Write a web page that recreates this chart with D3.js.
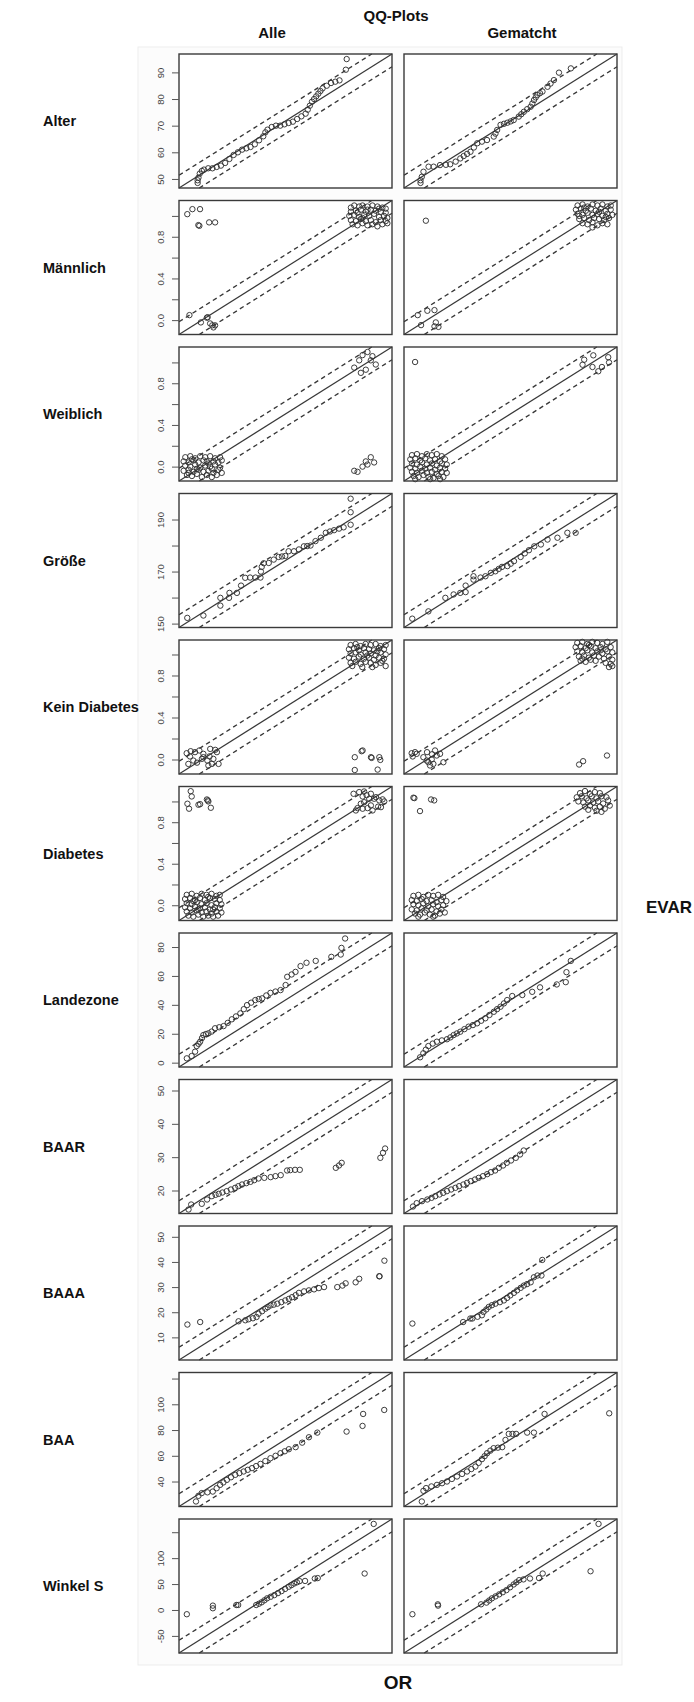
<!DOCTYPE html>
<html>
<head>
<meta charset="utf-8">
<script src="https://cdn.jsdelivr.net/npm/d3@7"></script>
<style>
  body { margin: 0; background: #fff; }
  svg text { font-family: "Liberation Sans", Arial, sans-serif; }
  .lbl { font-weight: bold; fill: #111; }
</style>
</head>
<body>
<svg id="chart" width="694" height="1702"></svg>
<script>
// ----------------------------
// Daten (aus dem Bild geschätzt): [OR-Quantil, EVAR-Quantil]
// ----------------------------
const rowNames = ['Alter', 'Männlich', 'Weiblich', 'Größe', 'Kein Diabetes', 'Diabetes',
  'Landezone', 'BAAR', 'BAAA', 'BAA', 'Winkel S'];
const colNames = ['Alle', 'Gematcht'];

const rowDomains = [[46.6, 96.9], [-0.138, 1.148], [-0.138, 1.148], [148.5, 200],
  [-0.138, 1.138], [-0.147, 1.144], [-3, 89.7], [13.1, 53.3], [1.0, 54.3], [20.6, 124.7], [-83, 175.5]];

const binTicks = [0, 0.2, 0.4, 0.6, 0.8, 1.0];
const binLabels = ['0.0', '', '0.4', '', '0.8', ''];
const rowTicks = [[50, 60, 70, 80, 90], binTicks, binTicks, [150, 160, 170, 180, 190], binTicks, binTicks,
  [0, 20, 40, 60, 80], [20, 30, 40, 50], [10, 20, 30, 40, 50], [40, 60, 80, 100, 120], [-50, 0, 50, 100, 150]];
const rowTickLabels = [['50', '60', '70', '80', '90'], binLabels, binLabels, ['150', '', '170', '', '190'],
  binLabels, binLabels, ['0', '20', '40', '60', '80'], ['20', '30', '40', '50'], ['10', '20', '30', '40', '50'],
  ['40', '60', '80', '100', ''], ['-50', '0', '50', '100', '']];

const alterAlle = [[51,48.5],[51,49.5],[51.2,50.5],[51.5,52],[52,53],[52.5,53.5],[53.5,54],[54.5,54],[55.5,54.5],
  [56.5,55],[57.5,56],[58.5,57.5],[59.5,59],[60.5,60],[61.5,61],[62.5,61.5],[63.5,62],[64.5,63],[65.5,64.5],
  [66.5,66],[67,67.5],[67.5,68.5],[68.5,69.5],[69.5,70],[70.5,70],[71.5,70.5],[72.5,71],[73.5,71.5],[74.5,72.5],
  [75.5,73.5],[76.5,74.5],[77,76],[77.5,77.5],[78,79],[78.5,80],[79,81],[79.5,82],[80,83],[80.5,84],[81.5,85],
  [82.5,86],[83.5,86.5],[84.5,87],[86,91],[86.2,95]];
const alterGem = [[50.5,48.5],[50.5,49.5],[50.8,50.8],[51.2,52.7],[52.4,54.6],[53.6,54.6],[55.1,55.2],[56.5,55.3],
  [57.5,55.5],[58.8,56.5],[59.9,57.7],[60.7,58.6],[61.5,59.4],[62.3,60.2],[63.1,61.8],[63.9,63.4],[65,64],
  [66.2,64.6],[67.8,65.9],[68.2,67],[68.6,68.4],[69.4,70.3],[70.2,70.7],[71,71.1],[71.8,71.6],[72.5,72.1],
  [73.7,73.4],[74.3,74.3],[74.9,75.2],[75.7,76.2],[76.5,77.1],[76.9,78.3],[77.3,79.6],[77.7,80.6],[78.1,81.5],
  [78.7,82.2],[79.3,82.8],[80.5,84.6],[81.2,85.8],[82,87.1],[83.2,89.9],[86,91.5]];

const maennlichAlle = [[-0.088,1.017],[-0.057,1.065],[-0.011,1.065],[-0.021,0.912],[-0.015,0.905],[0.044,0.938],
  [0.080,0.938],[-0.075,0.048],[-0.006,-0.022],[0.030,0.023],[0.035,0.028],[0.05,-0.032],[0.063,-0.05],
  [0.08,-0.05],[0.07,-0.07],
  [0.90,1.08],[0.92,1.10],[0.95,1.09],[0.97,1.10],[1.00,1.09],[1.03,1.10],[1.06,1.09],[1.09,1.08],[1.11,1.07],
  [0.90,1.04],[0.93,1.05],[0.96,1.06],[0.99,1.04],[1.02,1.06],[1.05,1.05],[1.08,1.04],[1.11,1.03],
  [0.89,1.00],[0.92,1.01],[0.95,0.99],[0.98,1.01],[1.01,1.00],[1.04,1.02],[1.07,0.99],[1.10,1.00],[1.12,0.98],
  [0.90,0.96],[0.93,0.95],[0.96,0.97],[0.99,0.95],[1.02,0.96],[1.05,0.94],[1.08,0.96],[1.11,0.95],
  [0.91,0.92],[0.94,0.91],[0.97,0.93],[1.00,0.91],[1.03,0.92],[1.06,0.90],[1.09,0.92],[1.12,0.93],
  [0.94,1.03],[1.00,1.06],[1.07,1.07],[0.97,0.98]];
const maennlichGem = [[-0.006,0.954],[-0.055,0.048],[0.003,0.09],[0.046,0.096],[-0.035,-0.048],[0.054,-0.022],
  [0.046,-0.06],[0.07,-0.065],
  [0.91,1.10],[0.94,1.11],[0.97,1.09],[1.00,1.11],[1.03,1.10],[1.06,1.11],[1.09,1.09],[1.11,1.10],
  [0.90,1.06],[0.93,1.07],[0.96,1.05],[0.99,1.07],[1.02,1.05],[1.05,1.07],[1.08,1.05],[1.11,1.06],
  [0.91,1.02],[0.94,1.01],[0.97,1.03],[1.00,1.01],[1.03,1.02],[1.06,1.00],[1.09,1.02],[1.12,1.01],
  [0.92,0.97],[0.95,0.98],[0.98,0.96],[1.01,0.98],[1.04,0.97],[1.07,0.96],[1.10,0.98],
  [0.94,0.93],[0.97,0.92],[1.00,0.94],[1.03,0.91],[1.06,0.93],[1.09,0.92],[1.00,0.89],
  [0.95,1.08],[1.04,1.04],[1.08,0.99],[0.92,1.00]];

const weiblichAlle = [[-0.10,0.09],[-0.07,0.10],[-0.04,0.08],[-0.01,0.10],[0.02,0.09],[0.05,0.10],[0.08,0.08],
  [0.11,0.09],[-0.11,0.05],[-0.08,0.04],[-0.05,0.06],[-0.02,0.04],[0.01,0.06],[0.04,0.03],[0.07,0.05],[0.10,0.04],
  [-0.10,0.01],[-0.07,0.00],[-0.04,0.02],[-0.01,-0.01],[0.02,0.01],[0.05,0.00],[0.08,0.02],[0.11,-0.01],
  [-0.11,-0.04],[-0.08,-0.03],[-0.05,-0.05],[-0.02,-0.03],[0.01,-0.05],[0.04,-0.04],[0.07,-0.06],[0.10,-0.03],
  [-0.09,-0.08],[-0.06,-0.09],[-0.03,-0.07],[0.00,-0.10],[0.03,-0.08],[0.06,-0.10],[0.09,-0.08],[0.12,-0.06],
  [-0.06,0.07],[0.03,0.05],[-0.03,-0.02],[0.06,-0.02],[-0.08,-0.06],[0.12,0.06],
  [0.92,0.95],[0.95,1.02],[0.97,1.07],[1.00,1.10],[1.03,1.06],[1.05,0.98],[0.99,0.93],[0.96,0.90],[1.02,1.02],
  [0.92,-0.04],[0.94,-0.05],[0.97,0.0],[1.0,0.02],[1.02,0.09],[1.04,0.04],[0.99,0.05]];
const weiblichGem = [[-0.071,1.004],
  [0.95,1.026],[1.005,1.068],[0.94,0.978],[1.0,0.956],[1.035,0.915],[1.057,0.956],[1.095,1.05],[1.10,1.0],
  [-0.09,0.11],[-0.06,0.12],[-0.03,0.10],[0.00,0.12],[0.03,0.11],[0.06,0.12],[0.09,0.10],
  [-0.10,0.07],[-0.07,0.08],[-0.04,0.06],[-0.01,0.08],[0.02,0.06],[0.05,0.07],[0.08,0.05],[0.11,0.07],
  [-0.09,0.03],[-0.06,0.02],[-0.03,0.04],[0.00,0.02],[0.03,0.03],[0.06,0.01],[0.09,0.03],[0.12,0.02],
  [-0.10,-0.01],[-0.07,-0.02],[-0.04,0.00],[-0.01,-0.02],[0.02,-0.01],[0.05,-0.03],[0.08,-0.01],[0.11,-0.02],
  [-0.09,-0.05],[-0.06,-0.06],[-0.03,-0.04],[0.00,-0.06],[0.03,-0.05],[0.06,-0.07],[0.09,-0.05],[0.12,-0.06],
  [-0.08,-0.09],[-0.05,-0.10],[-0.02,-0.08],[0.01,-0.10],[0.04,-0.11],[0.07,-0.09],[0.10,-0.10],
  [-0.07,-0.12],[0.02,-0.12],[0.08,-0.12]];

const groesseAlle = [[150.5,152.2],[154.4,153.1],[158.5,156.9],[158.5,159.9],[160.6,159.9],[160.7,161.8],
  [162.5,161.8],[163.5,164.6],[164.5,167.6],[165.7,167.7],[167,167.7],[168.2,167.7],[168.3,170],[168.5,171.8],
  [169,173.2],[170.2,173.3],[171.4,174.6],[172.6,175.6],[173.4,175.8],[174.2,176],[175,177.8],[176.3,177.8],
  [177.5,178.5],[178.7,179.7],[179.5,179.8],[180.3,180],[181.5,181.7],[182.8,183],[184,184.9],[185,185.4],
  [186,185.9],[187.2,186.5],[188.3,187],[190,188],[190,192.8],[190,198]];
const groesseGem = [[150.5,151.9],[154.4,154.7],[158.5,159.9],[160.5,161.2],[162.1,161.8],[163.4,162.1],
  [163.4,164.6],[165.3,166.9],[165.3,168.2],[167,167.7],[168.2,168.2],[169.5,169.5],[170.6,170.1],[171.4,171],
  [172.2,171.8],[173.5,172.1],[174.3,173],[175.1,174],[176.7,175.6],[177.7,177],[178.7,178.2],[180,179.7],
  [181.6,180.4],[183.2,182.3],[185.6,183],[188,184.9],[190,184.9]];

const keinDiabAlle = [[-0.092,0.06],[-0.068,0.079],[-0.042,0.07],[-0.016,0.086],[0.008,0.054],[0.049,0.101],
  [0.079,0.092],[0.089,0.07],[-0.082,-0.042],[-0.052,-0.01],[-0.001,0.006],[0.032,-0.01],[0.059,-0.042],
  [0.099,-0.042],[0.038,-0.057],[-0.072,0.029],[0.008,0.022],[0.068,0.006],[0.045,0.03],[-0.03,-0.03],
  [0.915,0.022],[0.956,0.079],[0.962,0.086],[1.012,0.022],[1.016,0.015],[1.062,0.022],[1.068,-0.004],
  [0.915,-0.1],[1.052,-0.096],
  [0.89,1.09],[0.92,1.10],[0.95,1.08],[0.98,1.10],[1.01,1.09],[1.04,1.10],[1.07,1.08],[1.10,1.09],
  [0.88,1.05],[0.91,1.06],[0.94,1.04],[0.97,1.06],[1.00,1.05],[1.03,1.04],[1.06,1.06],[1.09,1.05],
  [0.89,1.01],[0.92,1.02],[0.95,1.00],[0.98,1.02],[1.01,1.01],[1.04,0.99],[1.07,1.02],[1.10,1.00],
  [0.88,0.97],[0.91,0.96],[0.94,0.98],[0.97,0.96],[1.00,0.97],[1.03,0.95],[1.06,0.97],[1.09,0.96],
  [0.89,0.92],[0.92,0.93],[0.95,0.91],[0.98,0.93],[1.01,0.92],[1.04,0.90],[1.07,0.92],[1.10,0.89],
  [0.90,0.89],[0.96,0.88],[1.02,0.88],[0.93,1.07],[1.05,1.03],[0.99,0.99],[1.08,0.94]];
const keinDiabGem = [[-0.092,0.06],[-0.072,0.07],[-0.062,0.054],[-0.086,0.029],[-0.002,-0.01],[0.008,-0.026],
  [0.018,-0.057],[0.038,-0.042],[0.058,0.038],[0.078,0.054],[0.048,0.086],[0.098,-0.026],[0.028,0.0],
  [-0.022,0.022],[0.0,0.07],[0.03,0.05],
  [0.911,-0.048],[0.935,-0.016],[1.078,0.038],
  [0.90,1.11],[0.93,1.12],[0.96,1.10],[0.99,1.12],[1.02,1.11],[1.05,1.10],[1.08,1.12],
  [0.89,1.07],[0.92,1.08],[0.95,1.06],[0.98,1.08],[1.01,1.06],[1.04,1.07],[1.07,1.05],[1.10,1.07],
  [0.90,1.03],[0.93,1.02],[0.96,1.04],[0.99,1.02],[1.02,1.03],[1.05,1.01],[1.08,1.03],[1.11,1.02],
  [0.91,0.98],[0.94,0.99],[0.97,0.97],[1.00,0.99],[1.03,0.98],[1.06,0.96],[1.09,0.98],[1.11,0.95],
  [0.92,0.94],[0.95,0.93],[0.98,0.95],[1.01,0.94],[1.07,0.92],[1.10,0.91],[1.09,0.88],[1.11,0.89],
  [0.97,1.09],[1.04,1.04],[0.93,0.96]];

const diabAlle = [[-0.076,1.099],[-0.07,1.048],[-0.096,0.978],[-0.086,0.93],[-0.029,0.968],[-0.019,0.974],
  [0.022,1.019],[0.031,1.0],[0.046,0.939],[0.028,1.01],
  [0.911,1.074],[0.945,1.09],[0.975,1.096],[0.966,1.048],[1.016,1.074],[1.036,1.026],[1.067,1.01],[1.097,1.0],
  [0.935,0.936],[0.966,0.93],[0.996,0.936],[1.016,0.962],[1.047,1.041],[0.975,0.993],[1.006,1.026],
  [1.077,0.945],[0.925,0.913],[1.026,0.913],[0.955,0.978],[1.087,1.02],[0.99,1.06],[1.06,0.95],
  [-0.10,0.10],[-0.07,0.11],[-0.04,0.09],[-0.01,0.11],[0.02,0.10],[0.05,0.11],[0.08,0.09],[0.10,0.10],
  [-0.11,0.06],[-0.08,0.07],[-0.05,0.05],[-0.02,0.07],[0.01,0.05],[0.04,0.07],[0.07,0.06],[0.10,0.05],
  [-0.10,0.02],[-0.07,0.01],[-0.04,0.03],[-0.01,0.01],[0.02,0.02],[0.05,0.00],[0.08,0.02],[0.11,0.01],
  [-0.11,-0.02],[-0.08,-0.03],[-0.05,-0.01],[-0.02,-0.03],[0.01,-0.02],[0.04,-0.04],[0.07,-0.02],[0.10,-0.03],
  [-0.10,-0.06],[-0.07,-0.07],[-0.04,-0.05],[-0.01,-0.07],[0.02,-0.06],[0.05,-0.08],[0.08,-0.06],[0.11,-0.07],
  [-0.09,-0.10],[-0.06,-0.11],[-0.03,-0.09],[0.00,-0.11],[0.03,-0.10],[0.06,-0.11],[0.09,-0.10],
  [-0.06,0.04],[0.03,0.08],[-0.03,-0.04],[0.06,-0.04]];
const diabGem = [[-0.09,1.036],[-0.084,1.032],[-0.05,0.907],[0.017,1.019],[0.036,1.01],
  [0.92,1.08],[0.95,1.10],[0.98,1.07],[1.01,1.09],[1.04,1.08],
  [0.90,1.04],[0.93,1.05],[0.96,1.03],[0.99,1.05],[1.02,1.03],[1.05,1.05],[1.08,1.04],
  [0.91,1.00],[0.94,0.99],[0.97,1.01],[1.00,0.99],[1.03,1.00],[1.06,0.98],[1.09,1.01],
  [0.95,0.95],[0.98,0.96],[1.01,0.94],[1.04,0.95],[1.07,0.93],[1.10,0.96],[1.02,0.91],[1.05,0.90],[0.97,0.92],
  [-0.09,0.09],[-0.06,0.10],[-0.03,0.08],[0.00,0.10],[0.03,0.09],[0.06,0.10],[0.09,0.08],
  [-0.10,0.05],[-0.07,0.04],[-0.04,0.06],[-0.01,0.04],[0.02,0.05],[0.05,0.03],[0.08,0.05],[0.11,0.04],
  [-0.09,0.01],[-0.06,0.00],[-0.03,0.02],[0.00,-0.01],[0.03,0.01],[0.06,-0.01],[0.09,0.00],
  [-0.10,-0.04],[-0.07,-0.05],[-0.04,-0.03],[-0.01,-0.05],[0.02,-0.04],[0.05,-0.06],[0.08,-0.04],
  [-0.08,-0.08],[-0.05,-0.09],[-0.02,-0.07],[0.01,-0.09],[0.04,-0.10],[0.07,-0.08],[0.10,-0.07],
  [-0.06,-0.11],[0.03,-0.11]];

const landeAlle = [[0.4,3],[2.5,4.6],[4,7.6],[4.7,11.5],[5.5,13],[6.2,14.5],[7,17],[7.6,19.1],[8.7,19.8],
  [9.8,20.3],[11.2,21.5],[12.7,23.8],[14.5,24.5],[16.4,25.3],[18.2,27.5],[20,30],[21.8,32],[23.7,34.1],
  [25.2,37],[26.6,39.8],[28.4,41.5],[30.2,43.3],[31.7,44],[33.2,44.5],[35,46.5],[36.8,48.3],[39,49.2],
  [41.2,50.2],[43.4,53.7],[44.1,59.4],[46,61],[47.7,62.8],[49.9,66.8],[52.5,69.1],[56.5,70.4],[63.3,73.2],
  [67.4,74.8],[67.7,79.4],[69.3,85.9]];
const landeGem = [[4,3.7],[5.4,6.5],[6.5,9],[7.6,11.5],[9.5,13.2],[11.3,14.5],[13.5,15.4],[15.7,16.2],
  [17.2,17.5],[18.6,19.1],[20,20.2],[21.5,21.4],[23.3,23.2],[25.1,24.9],[27,26],[28.8,27.2],[30.6,29],
  [32.4,30.7],[34.2,33],[36.1,35.2],[37.5,37],[39,38.7],[40.5,41],[41.9,43.3],[44.1,46.1],[48.5,46.8],
  [52.8,49],[56.2,52.1],[63.5,54.1],[67.4,55.7],[67.7,62.6],[69.6,70.4]];

const baarAlle = [[14.9,14.3],[15.4,15.8],[17.4,16],[18.4,17.3],[19.3,18.3],[20,18.7],[20.6,19],[21.3,19.4],
  [22.1,19.8],[22.9,20.3],[23.7,20.8],[24.3,21.3],[25,21.8],[25.8,22.2],[26.6,22.6],[27.3,23.1],[28.1,23.6],
  [29.2,23.8],[30.4,24],[31.3,24.3],[32.3,24.6],[33.5,26],[34.1,26.1],[35,26.2],[35.9,26.2],[42.7,26.8],
  [43.3,27.5],[43.8,28.3],[51.1,29.8],[51.6,31.3],[52,32.6]];
const baarGem = [[14.8,15.2],[15.5,16.2],[16.5,16.8],[17.5,17.3],[18.3,17.8],[19,18.3],[19.8,18.8],[20.5,19.3],
  [21.2,19.8],[22,20.3],[22.8,20.8],[23.5,21.3],[24.3,21.8],[25,22.3],[25.7,22.8],[26.5,23.3],[27.2,23.8],
  [28,24.3],[28.8,24.9],[29.5,25.5],[30.3,26],[31,26.8],[31.8,27.5],[32.5,28.3],[33.3,29],[34.2,29.8],
  [35,30.8],[35.7,32]];

const baaaAlle = [[3.1,15.1],[6.3,16.1],[15.9,16.4],[17.6,16.8],[18.4,17.2],[19.5,17.6],[20.4,18.1],[20.9,19.4],
  [21.8,20.4],[22.6,21.4],[23.2,22],[23.9,22.7],[24.7,23],[25.6,23.4],[26.6,24],[27.6,24.7],[28.5,25.3],
  [29.3,26],[30.2,26.8],[31,27.7],[32.3,28.3],[33.5,28.7],[34.8,29.1],[36,29.6],[37.3,30],[40.6,30],
  [41.9,30.6],[42.7,31.5],[45.2,31.9],[46.1,33.3],[51.1,34.3],[51.2,34.3],[52.4,40.5]];
const baaaGem = [[3.1,15.5],[15.8,16.1],[17.6,17.5],[18.1,17.5],[19.4,18.2],[20.5,18.8],[20.9,20.1],[21.6,21.1],
  [22.2,22.1],[23,22.8],[23.9,23.4],[25,24],[26,24.7],[26.8,25.7],[27.6,26.7],[28.5,27.7],[29.3,28.7],
  [30.2,29.7],[31,30.6],[31.8,31.2],[32.7,31.9],[33.5,33.9],[34.4,34.6],[35.4,34.6],[35.6,40.8]];

const baaAlle = [[28.9,24.5],[30.1,28.9],[31.7,31],[34.5,31.6],[37.1,32.2],[39,34.8],[40.7,37.4],[42.3,39.3],
  [44,41.3],[46,43.3],[48.1,45.2],[50.1,46.5],[52.2,47.8],[54.2,49.1],[56.3,50.4],[58.3,52],[60.4,53.7],
  [62.8,55.9],[65.3,58.1],[67.8,60],[70.2,62],[72.3,63.5],[74.3,65.1],[77.6,66.7],[80.8,70.2],[84.1,74.4],
  [88.2,78],[102.5,78.8],[110.3,83.2],[110.6,92.5],[120.9,95.6]];
const baaGem = [[29.3,24.5],[30.1,32.8],[31.4,34.9],[34,36.2],[36.7,37.4],[39.2,38.7],[41.6,40],[44,42],
  [46.5,43.9],[49,45.9],[51.4,47.8],[53.5,49.7],[55.5,51.6],[57.1,54.5],[58.7,57.4],[60,59.7],[61.2,62],
  [62.8,64],[64.4,65.9],[66.5,66.3],[68.6,66.7],[70.2,72.3],[71.8,77],[73.6,77],[75.4,77],[80.8,78],
  [84.1,78],[89.3,92.5],[120.9,93]];

const winkelAlle = [[-73.5,-8.2],[-41.9,3.3],[-41.9,8.4],[-13.4,9.6],[-11.2,9.6],[10.7,9.6],[14,12],[17.3,14.8],
  [20.6,18.6],[23.9,22.4],[28.3,25.5],[32.7,28.7],[37.1,32.5],[41.5,36.4],[45.8,40.6],[50.2,44.8],[53.5,48],
  [56.8,51.1],[60.1,53.3],[63.4,55.6],[70,56],[81.8,60.7],[85.4,61.5],[142.3,70.3],[153.3,166]];
const winkelGem = [[-72.8,-8.2],[-42,10.9],[-41.7,8.4],[10.5,10.9],[17.1,14.2],[20.4,18.3],[23.7,22.4],
  [28.1,26.2],[32.5,30.1],[36.9,34.2],[41.3,38.3],[45.7,43.7],[50.1,49.2],[53.4,53.3],[56.7,57.5],[62,59],
  [69.9,60.7],[80.9,61.5],[85.3,70.3],[143.4,74.7],[153.1,166]];

const panelData = [[alterAlle, alterGem], [maennlichAlle, maennlichGem], [weiblichAlle, weiblichGem],
  [groesseAlle, groesseGem], [keinDiabAlle, keinDiabGem], [diabAlle, diabGem], [landeAlle, landeGem],
  [baarAlle, baarGem], [baaaAlle, baaaGem], [baaAlle, baaGem], [winkelAlle, winkelGem]];

// ----------------------------
// Layout
// ----------------------------
const panelLeft = [179, 404];
const panelW = 213;
const panelH = 134;
const top0 = 54;
const rowStep = 146.5;
const bandFrac = 0.095;

const svg = d3.select('#chart');

svg.append('rect')
  .attr('x', 138).attr('y', 47)
  .attr('width', 484).attr('height', 1618)
  .attr('fill', '#fcfcfc')
  .attr('stroke', '#ededed');

// Titel
svg.append('text').attr('class', 'lbl').attr('x', 396).attr('y', 21)
  .attr('text-anchor', 'middle').attr('font-size', 15).text('QQ-Plots');
const colTitleX = [272, 522];
colNames.forEach((c, j) => {
  svg.append('text').attr('class', 'lbl')
    .attr('x', colTitleX[j]).attr('y', 38)
    .attr('text-anchor', 'middle').attr('font-size', 15).text(c);
});
svg.append('text').attr('class', 'lbl').attr('x', 398).attr('y', 1689)
  .attr('text-anchor', 'middle').attr('font-size', 19).text('OR');
svg.append('text').attr('class', 'lbl').attr('x', 692).attr('y', 913)
  .attr('text-anchor', 'end').attr('font-size', 17).text('EVAR');

rowNames.forEach((name, i) => {
  const top = top0 + i * rowStep;
  const dom = rowDomains[i];
  const band = (dom[1] - dom[0]) * bandFrac;
  const y = d3.scaleLinear().domain(dom).range([top + panelH, top]);

  svg.append('text').attr('class', 'lbl')
    .attr('x', 43).attr('y', top + panelH / 2 + 5)
    .attr('font-size', 14.5).text(name);

  colNames.forEach((c, j) => {
    const left = panelLeft[j];
    const x = d3.scaleLinear().domain(dom).range([left, left + panelW]);
    const g = svg.append('g').attr('class', 'panel');

    g.append('rect')
      .attr('x', left).attr('y', top)
      .attr('width', panelW).attr('height', panelH)
      .attr('fill', '#fff');

    const refLines = [
      { a: [dom[0], dom[0]], b: [dom[1], dom[1]], dash: null },
      { a: [dom[0], dom[0] + band], b: [dom[1] - band, dom[1]], dash: '4.5,3.5' },
      { a: [dom[0] + band, dom[0]], b: [dom[1], dom[1] - band], dash: '4.5,3.5' },
    ];
    g.selectAll('line.ref')
      .data(refLines)
      .enter()
      .append('line')
      .attr('class', 'ref')
      .attr('x1', d => x(d.a[0])).attr('y1', d => y(d.a[1]))
      .attr('x2', d => x(d.b[0])).attr('y2', d => y(d.b[1]))
      .attr('stroke', '#383838')
      .attr('stroke-width', d => d.dash ? 1.35 : 1.2)
      .attr('stroke-dasharray', d => d.dash);

    g.selectAll('circle')
      .data(panelData[i][j])
      .enter()
      .append('circle')
      .attr('cx', d => x(d[0]))
      .attr('cy', d => y(d[1]))
      .attr('r', 2.7)
      .attr('fill', 'none')
      .attr('stroke', '#333')
      .attr('stroke-width', 0.95);

    g.append('rect')
      .attr('x', left).attr('y', top)
      .attr('width', panelW).attr('height', panelH)
      .attr('fill', 'none')
      .attr('stroke', '#3a3a3a')
      .attr('stroke-width', 1.4);

    if (j === 0) {
      const yAxis = d3.axisLeft(y)
        .tickValues(rowTicks[i])
        .tickFormat((d, k) => rowTickLabels[i][k])
        .tickSize(7)
        .tickSizeOuter(0);
      g.append('g')
        .attr('transform', `translate(${left},0)`)
        .call(yAxis)
        .call(a => a.select('.domain').remove())
        .call(a => a.selectAll('.tick line').attr('stroke', '#555'))
        .call(a => a.selectAll('.tick text')
          .attr('transform', 'rotate(-90)')
          .attr('x', 0).attr('y', -15).attr('dy', null)
          .attr('text-anchor', 'middle')
          .attr('fill', '#444')
          .attr('font-size', 9.5)
          .attr('font-family', '"Liberation Sans", Arial, sans-serif'));
    }
  });
});
</script>
</body>
</html>
